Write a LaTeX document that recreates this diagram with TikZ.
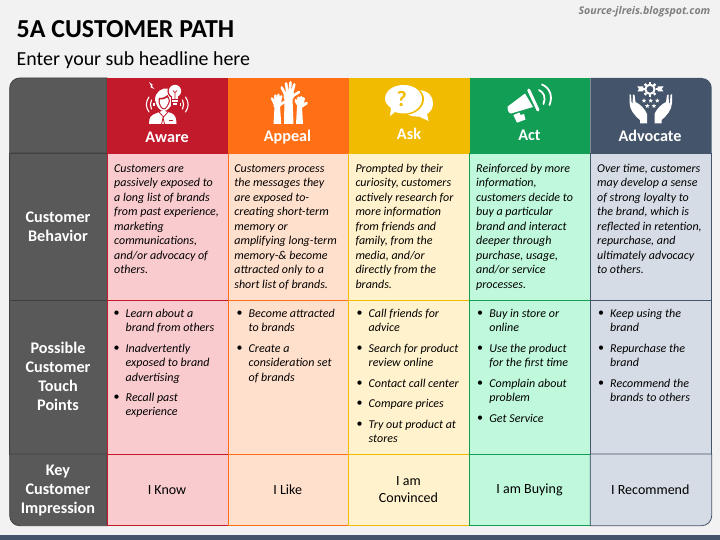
\documentclass[tikz,border=0pt]{standalone}
\usepackage{fontspec}
\setmainfont{Carlito}
\newfontfamily\srcfont{Open Sans}
\definecolor{bgc}{HTML}{F2F2F2}
\definecolor{darkc}{HTML}{595959}
\definecolor{darkl}{HTML}{404040}
\definecolor{redc}{HTML}{C21A2B}
\definecolor{orac}{HTML}{FF7016}
\definecolor{yelc}{HTML}{F0BB00}
\definecolor{grec}{HTML}{129E55}
\definecolor{navc}{HTML}{44546A}
\definecolor{redl}{HTML}{F9CBCE}
\definecolor{oral}{HTML}{FFE0CC}
\definecolor{yell}{HTML}{FFF2CC}
\definecolor{grel}{HTML}{BFF8DA}
\definecolor{navl}{HTML}{D6DCE5}
\definecolor{srcc}{HTML}{7F7F7F}
\tikzset{
  x=1pt,y=-1pt,
  cellbox/.style={draw=#1,line width=0.8pt,inner sep=0pt,outer sep=0pt},
  title/.style={anchor=base west,inner sep=0,font=\fontsize{25.9}{28}\selectfont\bfseries},
  sub/.style={anchor=base west,inner sep=0,font=\fontsize{19.9}{24}\selectfont},
  src/.style={anchor=base east,inner sep=0,text=srcc,font=\srcfont\fontsize{10.6}{12}\selectfont\bfseries\itshape},
  head/.style={inner sep=0,text=white,font=\fontsize{16.2}{19}\selectfont\bfseries},
  rowlab/.style={inner sep=0,text=white,align=center,font=\fontsize{16.2}{19}\selectfont\bfseries},
  body/.style={anchor=north west,inner sep=0,align=left,font=\fontsize{12}{14.45}\selectfont\itshape},
  bul/.style={anchor=center,inner sep=0,font=\fontsize{12}{14}\selectfont},
  imp/.style={inner sep=0,align=center,font=\fontsize{14}{16.8}\selectfont},
  wave/.style={draw=white,line width=1.1pt,line cap=round,fill=none},
}
\newcommand{\fl}{\rule{0pt}{9pt}}
\newcommand{\cellrect}[7]{%
  \node[cellbox=#7,fill=#6,minimum width={#4-#2},minimum height={#5-#3},anchor=north west] (#1) at (#2,#3) {};}
\newcommand{\bitem}[4]{%
  \node[bul] (#1b) at (#2,#3) {•};
  \node[body] (#1) at ({#2+9},{#3-5}) {\fl #4};}
\newcommand{\smallstar}[2]{%
  \fill[white,shift={(#1,#2)}] (270:2.4)--(306:1)--(342:2.4)--(18:1)--(54:2.4)--(90:1)--(126:2.4)--(162:1)--(198:2.4)--(234:1)--cycle;}
% hand: palm centre x,y, scale, finger width
\newcommand{\hand}[4]{%
  \begin{scope}[shift={(#1,#2)},scale=#3]
    \fill[white] (-5,-2)--(4.5,-3)--(6,0)--(4.6,4)--(-4.6,4)--cycle;
    \draw[white,line width=#4pt,line cap=round]
      (-3.4,-1)--(-6.8,-7.6) (-1,-1)--(-2.4,-11.6) (1.2,-1)--(2,-12.6) (3.3,-1)--(5.8,-10.6) (3.5,1.5)--(10.6,-3);
  \end{scope}}
\begin{document}
\begin{tikzpicture}
\useasboundingbox (0,0) rectangle (720,540);
\fill[bgc] (0,0) rectangle (720,540);
\fill[navc] (0,535) rectangle (720,540);

\node[title] (ttl) at (16.5,37.6) {5A CUSTOMER PATH};
\node[sub] (subttl) at (16.5,65.8) {Enter your sub headline here};
\node[src] (source) at (710.5,14.8) {Source-jlreis.blogspot.com};

% left column
\draw[fill=darkc,draw=darkl,line width=0.8pt] (107,153)--(9.7,153)--(9.7,88) .. controls (9.7,82.5) and (14.2,78) .. (19.7,78)--(107,78)--cycle;
\draw[fill=darkc,draw=darkl,line width=0.8pt] (9.7,153) rectangle (107,300);
\draw[fill=darkc,draw=darkl,line width=0.8pt] (9.7,300) rectangle (107,454);
\draw[fill=darkc,draw=darkl,line width=0.8pt] (107,454)--(9.7,454)--(9.7,515.7) .. controls (9.7,521.2) and (14.2,525.7) .. (19.7,525.7)--(107,525.7)--cycle;

% coloured columns
\foreach \n/\a/\b/\lc/\dc in {a/107/228/redl/redc,b/228/348.7/oral/orac,c/348.7/469.5/yell/yelc,d/469.5/590.3/grel/grec}{
  \cellrect{\n1}{\a}{153}{\b}{300}{\lc}{\dc}
  \cellrect{\n2}{\a}{300}{\b}{454}{\lc}{\dc}
  \cellrect{\n3}{\a}{454}{\b}{525.7}{\lc}{\dc}
}
\cellrect{e1}{590.3}{153}{711.7}{300}{navl}{navc}
\cellrect{e2}{590.3}{300}{711.7}{454}{navl}{navc}
\draw[fill=navl,draw=navc,line width=0.8pt] (590.3,454)--(711.7,454)--(711.7,515.7) .. controls (711.7,521.2) and (707.2,525.7) .. (701.7,525.7)--(590.3,525.7)--cycle;

% headers
\fill[redc] (107,78) rectangle (228,153);
\fill[orac] (228,78) rectangle (348.7,153);
\fill[yelc] (348.7,78) rectangle (469.5,153);
\fill[grec] (469.5,78) rectangle (590.3,153);
\fill[navc] (590.3,153)--(711.7,153)--(711.7,88) .. controls (711.7,82.5) and (707.2,78) .. (701.7,78)--(590.3,78)--cycle;

\node[head] (haware) at (167,137) {Aware};
\node[head] (happeal) at (287.5,137.5) {Appeal};
\node[head] (hask) at (409,133.5) {Ask};
\node[head] (hact) at (529.5,135) {Act};
\node[head] (hadv) at (650,136) {Advocate};

% row labels
\node[rowlab] (r1) at (58,226.5) {Customer\\[0.2pt]Behavior};
\node[rowlab] (r2) at (58,376.5) {Possible\\[0.2pt]Customer\\[0.2pt]Touch\\[0.2pt]Points};
\node[rowlab] (r3) at (58,490.5) {Key\\[0.2pt]Customer\\[0.2pt]Impression};

% behaviour text
\node[body] (t1) at (114,163.3) {\fl Customers are\\passively exposed to\\a long list of brands\\from past experience,\\marketing\\communications,\\and/or advocacy of\\others.};
\node[body] (t2) at (234.2,163.3) {\fl Customers process\\the messages they\\are exposed to-\\creating short-term\\memory or\\amplifying long-term\\memory-\& become\\attracted only to a\\short list of brands.};
\node[body] (t3) at (355.3,163.3) {\fl Prompted by their\\curiosity, customers\\actively research for\\more information\\from friends and\\family, from the\\media, and/or\\directly from the\\brands.};
\node[body] (t4) at (476,163.3) {\fl Reinforced by more\\information,\\customers decide to\\buy a particular\\brand and interact\\deeper through\\purchase, usage,\\and/or service\\processes.};
\node[body] (t5) at (597,163.3) {\fl Over time, customers\\may develop a sense\\of strong loyalty to\\the brand, which is\\reflected in retention,\\repurchase, and\\ultimately advocacy\\to others.};

% touch points
\bitem{p1}{116.5}{313.3}{Learn about a\\brand from others}
\bitem{p2}{116.5}{348.3}{Inadvertently\\exposed to brand\\advertising}
\bitem{p3}{116.5}{397.3}{Recall past\\experience}
\bitem{q1}{239.5}{313.3}{Become attracted\\to brands}
\bitem{q2}{239.5}{348.3}{Create a\\consideration set\\of brands}
\bitem{s1}{359.5}{313.3}{Call friends for\\advice}
\bitem{s2}{359.5}{348.3}{Search for product\\review online}
\bitem{s3}{359.5}{383.3}{Contact call center}
\bitem{s4}{359.5}{403.3}{Compare prices}
\bitem{s5}{359.5}{424.3}{Try out product at\\stores}
\bitem{u1}{480.2}{313.3}{Buy in store or\\online}
\bitem{u2}{480.2}{348.3}{Use the product\\for the first time}
\bitem{u3}{480.2}{383.3}{Complain about\\problem}
\bitem{u4}{480.2}{418.3}{Get Service}
\bitem{v1}{601}{313.3}{Keep using the\\brand}
\bitem{v2}{601}{348.3}{Repurchase the\\brand}
\bitem{v3}{601}{383.3}{Recommend the\\brands to others}

% impressions
\node[imp] (i1) at (167,490) {I Know};
\node[imp] (i2) at (287.7,490) {I Like};
\node[imp] (i3) at (408.5,489.5) {I am\\Convinced};
\node[imp] (i4) at (529.5,490) {I am Buying};
\node[imp] (i5) at (650.3,490) {I Recommend};

% === Aware icon ===
\fill[white] (149,82)--(153,85)--(151.5,85.5)--(154.5,89)--(150.5,87.3)--(151,86)--cycle;
\fill[white] (155,100) .. controls (155,92) and (162,87) .. (169,88.5) .. controls (172,90) and (172,96) .. (172,99) -- (172,103) .. controls (171,107) and (167,111) .. (164,111) .. controls (160,111) and (157,107) .. (156,103) --cycle;
\fill[redc] (158.8,98) .. controls (163,98) and (166,97) .. (167.5,95) .. controls (168.5,97) and (170,99) .. (170,101) .. controls (169,105) and (166,109.5) .. (164,109.5) .. controls (161,109.5) and (159,105) .. (158.5,102) --cycle;
\fill[white] (160,99.5) .. controls (164,99.5) and (166,98.8) .. (167.2,97.5) .. controls (168.4,98.8) and (168.8,100) .. (168.8,101) .. controls (168,104.5) and (165.5,108.3) .. (164,108.3) .. controls (161.5,108.3) and (160,104) .. (159.8,102) --cycle;
% bulb
\fill[redc] (175,91) circle (7.6);
\fill[redc] (170.8,94) rectangle (179.2,106.4);
\fill[white] (175,91) circle (6.2);
\fill[white] (172,94) rectangle (178,99);
\fill[white] (172.3,100) rectangle (177.7,102);
\fill[white] (173.3,103) rectangle (176.7,105.2);
\draw[redc,line width=0.7pt] (175,92)--(175,99) (173,90.5)--(175,92.6)--(177,90.5);
% shoulders
\fill[white] (149,124) .. controls (149,117) and (151,115) .. (157,113) -- (163,110.5) -- (171,113) .. controls (175,114.5) and (176.5,118) .. (176.5,124) --cycle;
\draw[redc,line width=0.8pt] (159,112)--(163.5,117)--(168,112) (161.6,124)--(163,117.5)--(164.5,124);
\fill[redc] (168.5,120) rectangle (173,121);
\draw[wave] (149,97) .. controls (145.5,102) and (145.5,107) .. (149,112);
\draw[wave] (151.5,100) .. controls (150,103) and (150,106) .. (151.5,109);
\draw[wave] (185.5,97) .. controls (189,102) and (189,107) .. (185.5,112);
\draw[wave] (182.5,100) .. controls (184,103) and (184,106) .. (182.5,109);
\fill[white] (153.3,103) rectangle (154.5,106);
\fill[white] (180,103) rectangle (181.2,106);

% === Appeal icon ===
\fill[white] (273.5,124)--(274.5,107)--(280,107)--(281.3,124)--cycle;
\hand{277}{104}{0.72}{2.6}
\fill[white] (284,124)--(284.5,98)--(292.5,98)--(293.5,124)--cycle;
\hand{288.5}{95}{1}{2.6}
\fill[white] (296,124)--(297,107)--(302,107)--(303,124)--cycle;
\hand{300}{105}{0.62}{2.8}

% === Ask icon ===
\fill[white] (417,90) .. controls (428,90) and (433,96) .. (433,103) .. controls (433,108) and (431,111.5) .. (427,114) -- (428.5,121) -- (419,116.5) .. controls (411,117) and (404,114) .. (402,109) -- (410,90) --cycle;
\fill[yelc] (403.5,84) .. controls (415,84) and (424,91) .. (424,99) .. controls (424,108) and (415,115) .. (403.5,115) .. controls (400,115) and (397,114.8) .. (395,114) -- (384,118) -- (389,107) .. controls (385,104) and (383.5,102) .. (383.5,99) .. controls (383.5,91) and (392,84) .. (403.5,84) --cycle;
\fill[white] (403.5,85) .. controls (414,85) and (422,91) .. (422,99) .. controls (422,107) and (414,113.5) .. (403.5,113.5) .. controls (400,113.5) and (397.5,113) .. (395,112) -- (390,116) -- (391,108) .. controls (387,105) and (385,102) .. (385,99) .. controls (385,91) and (393,85) .. (403.5,85) --cycle;
\node[inner sep=0,text=yelc,font=\fontsize{22}{24}\selectfont\bfseries] (qm) at (401.8,98.8) {?};

% === Act icon ===
\fill[white] (507.7,106.5)--(525,93.5)--(533,107)--(511,113.5) .. controls (509,113.5) and (507,110) .. (507.7,106.5) --cycle;
\draw[white,line width=3pt,line cap=round] (528.7,90)--(538,110);
\fill[white] (513.3,115)--(519.5,112.5)--(520.5,115)--(524,114)--(525.5,119.5)--(517,122.7)--cycle;
\draw[wave,line width=1.8pt] (539,90) .. controls (544,92.5) and (546,97.5) .. (543.5,104);
\draw[wave,line width=1.8pt] (542,84.5) .. controls (550,88) and (553,96) .. (549.5,105);

% === Advocate icon ===
\draw[white,line width=2pt] (650,89.3) circle (4.6);
\foreach \g in {0,45,...,315}{
  \fill[white,shift={(650,89.3)},rotate=\g] (-1.2,-5.5) rectangle (1.2,-7.6);
}
\fill[white] (637.3,86.5)--(643.3,86.5)--(643.3,91.5)--(637.3,91.5)--(639,89)--cycle;
\fill[white] (663.5,86.5)--(657.5,86.5)--(657.5,91.5)--(663.5,91.5)--(661.8,89)--cycle;
\smallstar{644}{100.7}
\smallstar{650.7}{100.7}
\smallstar{657.3}{100.7}
\smallstar{647.3}{106}
\smallstar{654}{106}
\fill[white] (629.5,94)--(631,95)--(631.5,102)--(632.5,104)--(633,94.5)--(634.5,95)--(635.5,102) .. controls (640,104) and (645,109) .. (647,114)--(647,123.5)--(640,123.5)--(640,120) .. controls (634,115) and (630,110) .. (629.5,103) --cycle;
\fill[white] (672,94)--(670.5,95)--(670,102)--(669,104)--(668.5,94.5)--(667,95)--(666,102) .. controls (661.5,104) and (656.5,109) .. (654.5,114)--(654.5,123.5)--(661.5,123.5)--(661.5,120) .. controls (667.5,115) and (671.5,110) .. (672,103) --cycle;
\end{tikzpicture}
\end{document}
